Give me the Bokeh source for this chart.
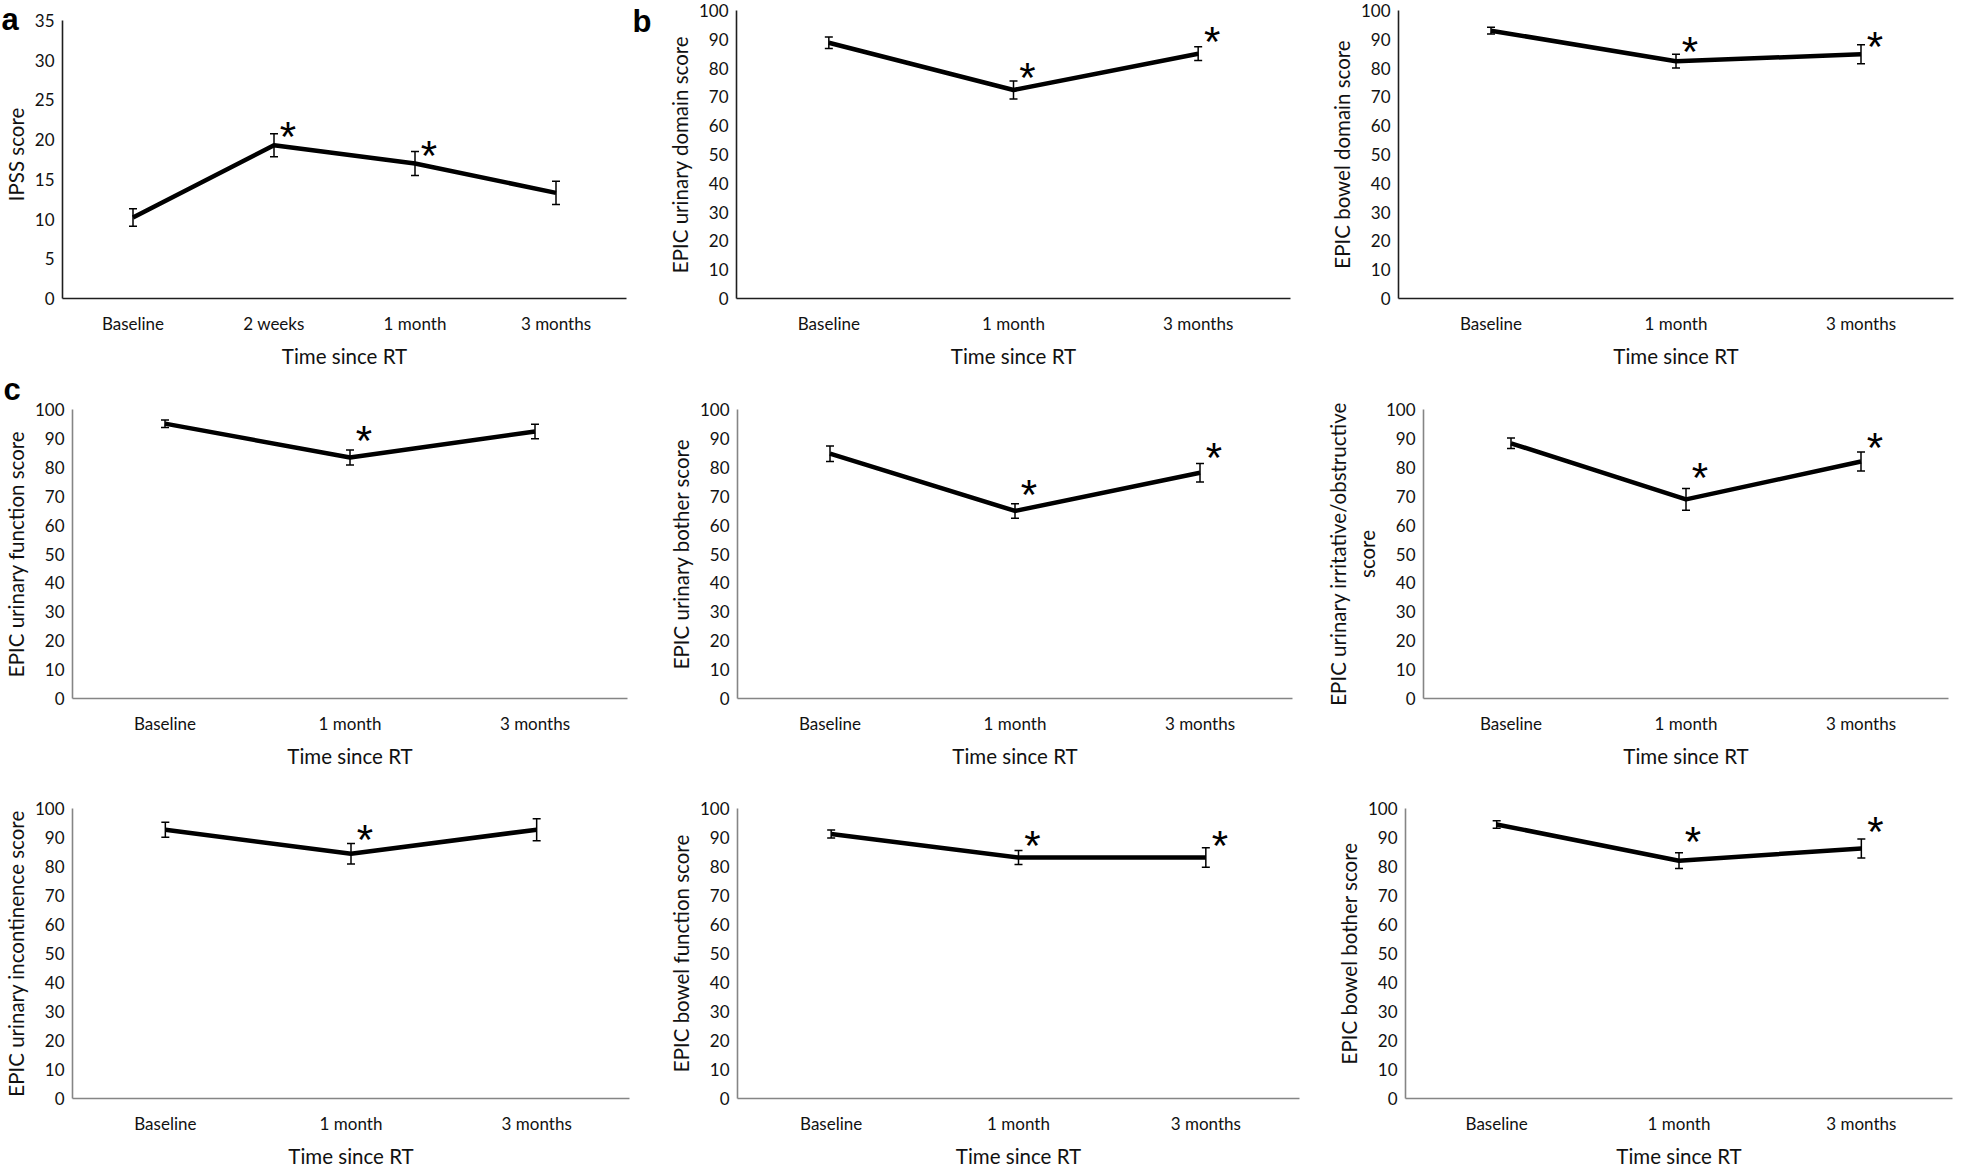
import math
from bokeh.plotting import figure
from bokeh.layouts import column, row
from bokeh.models import (ColumnDataSource, Whisker, TeeHead, Label, Range1d,
                          FactorRange)
from bokeh.core.properties import value
from bokeh.embed import file_html
from bokeh.resources import INLINE

NaN = float("nan")

# ---------------- data ----------------
time_points_4 = ["Baseline", "2 weeks", "1 month", "3 months"]
time_points_3 = ["Baseline", "1 month", "3 months"]

ipss_mean = [10.2, 19.3, 17.0, 13.3]
ipss_err = [1.1, 1.45, 1.5, 1.45]
ipss_star = [NaN, 21.2, 18.7, NaN]

urinary_domain_mean = [88.8, 72.4, 85.0]
urinary_domain_err = [2.0, 3.1, 2.4]
urinary_domain_star = [NaN, 78.8, 91.3]

bowel_domain_mean = [93.0, 82.4, 84.8]
bowel_domain_err = [1.2, 2.4, 3.3]
bowel_domain_star = [NaN, 87.9, 89.6]

urinary_function_mean = [95.1, 83.4, 92.4]
urinary_function_err = [1.3, 2.6, 2.5]
urinary_function_star = [NaN, 91.5, NaN]

urinary_bother_mean = [84.7, 64.9, 78.1]
urinary_bother_err = [2.7, 2.5, 3.2]
urinary_bother_star = [NaN, 72.8, 85.3]

urinary_irritative_mean = [88.3, 68.9, 82.0]
urinary_irritative_err = [1.8, 3.8, 3.3]
urinary_irritative_star = [NaN, 78.6, 88.8]

urinary_incontinence_mean = [92.7, 84.4, 92.7]
urinary_incontinence_err = [2.6, 3.5, 3.8]
urinary_incontinence_star = [NaN, 91.5, NaN]

bowel_function_mean = [91.2, 83.1, 83.1]
bowel_function_err = [1.4, 2.4, 3.4]
bowel_function_star = [NaN, 89.3, 89.3]

bowel_bother_mean = [94.5, 82.0, 86.2]
bowel_bother_err = [1.3, 2.7, 3.3]
bowel_bother_star = [NaN, 90.8, 94.3]

x_title = "Time since RT"
panel_letters = ["a", "b", "c"]

# ---------------- layout helpers (reference px -> page px) ----------------
def X(xr):
    return 8 + xr * 1945 / 1961

def Y(yr):
    return 12 + yr * 1148 / 1170

COL_EDGES = [8, round(X(668)), round(X(1308)), 1953]
ROW_EDGES = [8, round(Y(367)), round(Y(770)), 1162]
# common frame top / bottom of each row (reference px)
ROW_FRAME = [(6, 300), (407, 701.5), (809, 1104.5)]

FONT = "Lato"
DARK = "#1e1e1e"
GRAY = "#858585"


def letter_label(text, page_x, page_y, cx0, ry0):
    # positioned in canvas pixels of the figure that draws it
    return Label(x=page_x - cx0, y=page_y - ry0, x_units="canvas",
                 y_units="canvas", text=text,
                 text_font="Liberation Sans", text_font_style="bold",
                 text_font_size="31px", text_baseline="alphabetic",
                 text_align="left", text_color="black")


def make_panel(cats, mean, err, star, ytitle, ymax, step, frame, col, rw,
               axis_color):
    L, R, T = frame
    cx0, cx1 = COL_EDGES[col], COL_EDGES[col + 1]
    ry0, ry1 = ROW_EDGES[rw], ROW_EDGES[rw + 1]
    FT, FB = ROW_FRAME[rw]
    fl, fr = round(X(L)), round(X(R))
    ft, fb = round(Y(FT)), round(Y(FB))
    own_top = round(Y(T))
    ppu = (fb - own_top) / ymax
    y_end = ymax + (own_top - ft) / ppu
    p = figure(x_range=FactorRange(*cats), y_range=Range1d(0, y_end),
               frame_width=fr - fl, frame_height=fb - ft,
               min_border_left=fl - cx0, min_border_right=cx1 - fr,
               min_border_top=ft - ry0, min_border_bottom=ry1 - fb,
               toolbar_location=None, tools="", output_backend="svg")
    p.outline_line_color = None
    p.xgrid.visible = False
    p.ygrid.visible = False
    p.background_fill_color = "white"
    p.border_fill_color = "white"

    for ax in (p.xaxis[0], p.yaxis[0]):
        ax.axis_line_color = axis_color
        ax.axis_line_width = 1.6
        ax.major_tick_out = 0
        ax.major_tick_in = 0
        ax.minor_tick_out = 0
        ax.minor_tick_in = 0
        ax.major_label_text_font = FONT
        ax.major_label_text_font_size = "17px"
        ax.major_label_text_color = "#111111"
        ax.axis_label_text_font = FONT
        ax.axis_label_text_font_size = "20.5px"
        ax.axis_label_text_font_style = "normal"
        ax.axis_label_text_color = "#111111"

    p.yaxis.ticker = list(range(0, ymax + 1, step))
    p.yaxis.bounds = (0, ymax)
    p.yaxis.major_label_standoff = 8
    p.yaxis.axis_label_standoff = 4
    p.yaxis.axis_label = ytitle
    p.xaxis.major_label_standoff = 14
    p.xaxis.axis_label_standoff = 7
    p.xaxis.axis_label = x_title

    src = ColumnDataSource(dict(
        x=cats, mean=mean,
        upper=[m + e for m, e in zip(mean, err)],
        lower=[m - e for m, e in zip(mean, err)],
    ))
    p.add_layout(Whisker(base="x", upper="upper", lower="lower", source=src,
                         line_color="black", line_width=1.5,
                         upper_head=TeeHead(size=8, line_width=1.5, line_color="black"),
                         lower_head=TeeHead(size=8, line_width=1.5, line_color="black"),
                         level="glyph"))
    p.line(x="x", y="mean", source=src, line_width=4.5, line_color="black",
           line_join="round")

    sx = [c for c, s in zip(cats, star) if not math.isnan(s)]
    sy = [s for s in star if not math.isnan(s)]
    if sx:
        ssrc = ColumnDataSource(dict(x=sx, y=sy, t=["*"] * len(sx)))
        p.text(x="x", y="y", text="t", source=ssrc,
               text_font=value("Liberation Sans"), text_font_size="42px",
               text_align="center", text_baseline="alphabetic",
               x_offset=14, y_offset=6, text_color="black")
    return p


pa = make_panel(time_points_4, ipss_mean, ipss_err, ipss_star, "IPSS score",
                35, 5, (61.7, 630, 16.7), 0, 0, DARK)
pb = make_panel(time_points_3, urinary_domain_mean, urinary_domain_err,
                urinary_domain_star, "EPIC urinary domain score",
                100, 10, (732.5, 1292, 6), 1, 0, DARK)
pb2 = make_panel(time_points_3, bowel_domain_mean, bowel_domain_err,
                 bowel_domain_star, "EPIC bowel domain score",
                 100, 10, (1400, 1960, 6), 2, 0, DARK)

pc1 = make_panel(time_points_3, urinary_function_mean, urinary_function_err,
                 urinary_function_star, "EPIC urinary function score",
                 100, 10, (70.5, 630, 407), 0, 1, GRAY)
pc2 = make_panel(time_points_3, urinary_bother_mean, urinary_bother_err,
                 urinary_bother_star, "EPIC urinary bother score",
                 100, 10, (737, 1297, 407), 1, 1, GRAY)
pc3 = make_panel(time_points_3, urinary_irritative_mean, urinary_irritative_err,
                 urinary_irritative_star,
                 "EPIC urinary irritative/obstructive\nscore",
                 100, 10, (1428.6, 1958, 407), 2, 1, GRAY)

pd1 = make_panel(time_points_3, urinary_incontinence_mean,
                 urinary_incontinence_err, urinary_incontinence_star,
                 "EPIC urinary incontinence score",
                 100, 10, (70.5, 632, 809), 0, 2, GRAY)
pd2 = make_panel(time_points_3, bowel_function_mean, bowel_function_err,
                 bowel_function_star, "EPIC bowel function score",
                 100, 10, (733, 1300, 809), 1, 2, GRAY)
pd3 = make_panel(time_points_3, bowel_bother_mean, bowel_bother_err,
                 bowel_bother_star, "EPIC bowel bother score",
                 100, 10, (1406, 1958, 809), 2, 2, GRAY)

# panel letters: drawn in canvas pixels from side panels that have spare room
pa.add_layout(letter_label(panel_letters[0], 9, 27, COL_EDGES[0], ROW_EDGES[0]), "right")
pa.add_layout(letter_label(panel_letters[1], 640, 29, COL_EDGES[0], ROW_EDGES[0]), "right")
pc1.add_layout(letter_label(panel_letters[2], 11, 391, COL_EDGES[0], ROW_EDGES[1]), "above")

layout = column(row(pa, pb, pb2, spacing=0),
                row(pc1, pc2, pc3, spacing=0),
                row(pd1, pd2, pd3, spacing=0), spacing=0)

open("out.html", "w").write(file_html(layout, INLINE, title="Scores over time since RT"))
